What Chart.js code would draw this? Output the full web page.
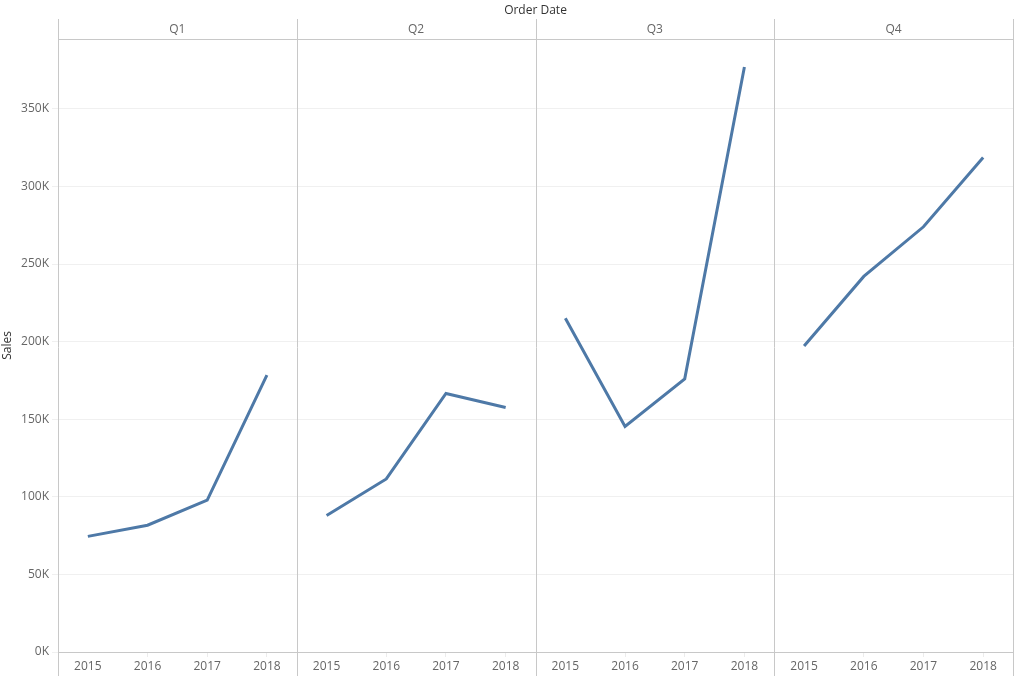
<!DOCTYPE html>
<html>
<head>
<meta charset="utf-8">
<script src="https://cdn.jsdelivr.net/npm/chart.js@4.4.1/dist/chart.umd.min.js"></script>
<style>
  html, body { margin: 0; padding: 0; background: #fff; }
  canvas { display: block; }
</style>
</head>
<body>
<canvas id="chart" width="1024" height="676"></canvas>
<script>
// ---- Dados ----
const quarters = ['Q1', 'Q2', 'Q3', 'Q4'];
const years = ['2015', '2016', '2017', '2018'];
const q1Sales = [74500, 81700, 97900, 178400];
const q2Sales = [88000, 111500, 166600, 157500];
const q3Sales = [215000, 145400, 176000, 377000];
const q4Sales = [197200, 242000, 274000, 318600];
const yTicks = [0, 50000, 100000, 150000, 200000, 250000, 300000, 350000];

const allSales = [q1Sales, q2Sales, q3Sales, q4Sales];

// rótulos do eixo x: anos repetidos por trimestre
const xLabels = [];
quarters.forEach(() => years.forEach(y => xLabels.push(y)));

// cada trimestre vira um dataset separado (nulls fora do seu painel)
const datasets = allSales.map((vals, qi) => {
  const data = new Array(xLabels.length).fill(null);
  vals.forEach((v, i) => { data[qi * years.length + i] = v; });
  return {
    label: quarters[qi],
    data: data,
    borderColor: '#4e79a7',
    backgroundColor: '#4e79a7',
    borderWidth: 3,
    pointRadius: 0,
    tension: 0,
    spanGaps: false
  };
});

const FONT = '"Open Sans", "DejaVu Sans", sans-serif';
const GRID_PANEL = '#c8c8c8';

// linhas verticais que separam os painéis (do cabeçalho até o fim)
const panelLines = {
  id: 'panelLines',
  afterDraw(chart) {
    const x = chart.scales.x;
    const top = chart.scales.xTop.bottom - 20;
    const bottom = chart.height;
    const ctx = chart.ctx;
    const step = x.width / quarters.length;
    ctx.save();
    ctx.strokeStyle = GRID_PANEL;
    ctx.lineWidth = 1;
    for (let k = 0; k <= quarters.length; k++) {
      const px = Math.round(x.left + k * step) + 0.5;
      ctx.beginPath();
      ctx.moveTo(px, top);
      ctx.lineTo(px, bottom);
      ctx.stroke();
    }
    ctx.restore();
  }
};

new Chart(document.getElementById('chart'), {
  type: 'line',
  data: { labels: xLabels, datasets: datasets },
  plugins: [panelLines],
  options: {
    responsive: false,
    animation: false,
    devicePixelRatio: 1,
    layout: { padding: { left: 0, right: 11, top: 0, bottom: 0 } },
    plugins: { legend: { display: false }, tooltip: { enabled: false } },
    scales: {
      x: {
        type: 'category',
        position: 'bottom',
        offset: true,
        grid: {
          drawOnChartArea: false,
          tickLength: 5,
          tickColor: (c) => (c.index % 4 === 0 ? 'rgba(0,0,0,0)' : '#ececec'),
          color: 'rgba(0,0,0,0)'
        },
        border: { display: true, color: GRID_PANEL },
        ticks: { color: '#666', font: { family: FONT, size: 12 }, padding: 2, maxRotation: 0, autoSkip: false },
        afterFit: (s) => { s.height = 24; }
      },
      xTop: {
        type: 'category',
        position: 'top',
        labels: quarters,
        offset: true,
        grid: { display: false, drawTicks: false },
        border: { display: true, color: GRID_PANEL },
        ticks: { color: '#666', font: { family: FONT, size: 12 }, padding: 2 },
        title: {
          display: true,
          text: 'Order Date',
          color: '#333',
          font: { family: FONT, size: 12 },
          padding: { top: 3, bottom: 0 }
        },
        afterFit: (s) => { s.height = 39; }
      },
      y: {
        min: 0,
        max: 395000,
        afterBuildTicks: (s) => { s.ticks = yTicks.map(v => ({ value: v })); },
        grid: { color: '#f0f0f0', tickLength: 6, tickColor: '#f0f0f0' },
        border: { display: false },
        ticks: {
          color: '#666',
          font: { family: FONT, size: 12 },
          padding: 3,
          callback: (v) => (v / 1000) + 'K'
        },
        title: {
          display: true,
          text: 'Sales',
          color: '#333',
          font: { family: FONT, size: 12 },
          padding: { top: 0, bottom: 0 }
        },
        afterFit: (s) => { s.width = 58; }
      }
    }
  }
});
</script>
</body>
</html>
